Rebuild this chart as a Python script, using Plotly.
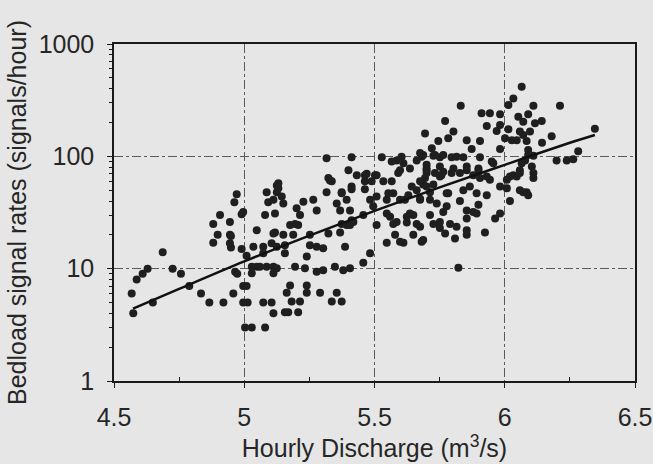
import plotly.graph_objects as go

# Scatter data: hourly discharge (m3/s) vs bedload signal rate (signals/hour)
discharge = [
    4.687, 4.629, 4.610, 4.587, 4.568, 4.574, 4.649, 4.725, 4.757, 4.789, 4.834, 4.866, 4.920,
    4.881, 4.898, 4.881, 4.907, 4.945, 4.949, 4.949, 4.962, 4.971, 4.990, 4.996, 4.990, 4.958,
    4.973, 4.996, 5.009, 4.996, 5.013, 5.003, 5.029, 5.080, 5.073, 5.105, 5.112, 5.009, 5.029,
    5.048, 5.060, 5.086, 5.112, 4.965, 5.029, 5.048, 5.035, 5.073, 5.105, 5.118, 5.080, 5.092,
    5.086, 5.125, 5.118, 5.073,
    5.694, 5.316, 5.412, 5.528, 5.502, 5.400, 5.470, 5.323, 5.336, 5.412, 5.463, 5.534, 5.566,
    5.463, 5.374, 5.316, 5.412, 5.131, 5.131, 5.125, 5.144, 5.150, 5.112, 5.201, 5.227, 5.265,
    5.278, 5.214, 5.176, 5.207, 5.355, 5.393, 5.406, 5.368, 5.419, 5.393, 5.483, 5.508, 5.547,
    5.572, 5.598, 5.630, 5.662, 5.675, 5.700, 5.585, 5.611, 5.598, 5.636, 5.700, 5.694, 5.681,
    5.662, 5.560, 5.624, 5.649, 5.572,
    5.195, 5.374, 5.406, 5.508, 5.585, 5.624, 5.662, 5.150, 5.188, 5.112, 5.252, 5.323, 5.579,
    5.649, 5.547, 5.611, 5.681, 5.252, 5.278, 5.303, 5.387, 5.156, 5.125, 5.156, 5.240, 5.483,
    5.457, 5.195, 5.233, 5.278, 5.303, 5.380, 5.406, 5.125, 5.112, 5.176, 5.240, 5.163, 5.240,
    5.291, 5.355, 5.182, 5.214, 5.336, 5.374, 5.169, 5.207,
    6.065, 6.033, 6.014, 6.110, 6.212, 5.831, 5.911, 5.943, 5.982, 6.052, 6.090, 6.071, 6.116,
    6.142, 5.771, 5.982, 5.931, 5.969, 6.014, 6.058, 6.097, 6.071, 5.803, 6.346, 6.180, 6.143,
    6.001, 6.027, 6.046, 6.084, 5.783, 5.854, 5.905, 5.745, 5.720, 5.873, 5.982, 6.090, 6.282,
    6.090, 6.110, 5.687, 5.726, 5.751, 5.796, 5.841, 5.905, 6.199, 6.238, 6.263, 5.950, 6.078,
    5.700, 5.751, 5.803, 5.854, 5.899, 6.104, 6.058, 6.110, 5.700, 5.764, 5.828, 5.879, 5.931,
    6.046,
    5.751, 5.905, 5.943, 6.020, 6.058, 5.687, 5.713, 5.783, 5.866, 5.931, 6.008, 6.071, 6.090,
    5.675, 5.739, 5.828, 5.899, 6.020, 5.764, 5.879, 5.982, 5.963, 5.713, 5.854, 5.726, 5.790,
    5.751, 5.815, 5.771, 5.809, 5.854, 5.924, 5.687, 5.822,
    5.675, 5.732, 5.764, 5.815, 5.956, 5.604, 5.566, 5.432, 5.463, 5.508, 5.591, 5.700, 5.732,
    5.757, 5.796, 5.854, 5.899, 5.329, 5.374, 5.489, 5.553, 5.643, 5.675, 5.726, 5.777, 5.841,
    5.892, 5.982, 6.058, 6.084, 6.110, 6.065, 6.008, 6.033, 5.617, 5.713, 5.777, 5.854, 5.892,
    5.547, 5.636, 5.751, 5.854, 5.675, 5.412, 5.457, 5.495, 5.368,
    5.598, 5.348, 5.156, 4.945, 4.945,
]
signal_rate = [
    14, 10, 9, 8, 6, 4, 5, 10, 9, 7, 6, 5, 5,
    25, 20, 17, 30, 26, 19.5, 15.4, 39, 46, 30.5, 32, 15, 6,
    9, 7, 7, 5, 5, 3, 3, 3, 5, 5, 4, 13, 10.4,
    10.4, 10.4, 10.4, 10.4, 9.4, 9.1, 22, 15.7, 15.7, 16.8, 21, 30, 39,
    48, 55, 31, 13.7,
    160, 96, 98, 98, 68, 75, 70, 64, 60, 54, 60, 60, 60,
    51, 48, 48, 51, 57.5, 52, 48, 44, 38, 41, 34.5, 39.5, 41,
    33, 30, 24.5, 24.5, 38, 41, 33, 33, 26, 24.5, 41, 44, 41,
    47, 41, 45, 50, 41, 54, 92, 87, 75, 78, 78, 64, 99,
    92, 29, 29, 30, 25,
    25, 25, 24.5, 24.5, 26, 25.7, 25, 20, 20, 20.6, 20, 20.6, 20,
    20, 17, 17, 17.4, 16.2, 15.7, 15.2, 15.7, 16.2, 15.7, 13.7, 12.8, 13.7,
    11.3, 10.4, 10.1, 9.4, 9.7, 9.7, 10.1, 10.1, 9.1, 7.1, 7.1, 6.1, 6.1,
    6.1, 6.1, 5.1, 5.1, 5.1, 5.1, 4.1, 4.1,
    417, 328, 286, 282, 282, 282, 242, 242, 237, 225, 237, 203, 197,
    206, 206, 190, 186, 168, 174, 166, 166, 155, 166, 176, 151, 132,
    145, 139, 139, 137, 145, 139, 137, 137, 118, 116, 116, 114, 111,
    103, 101, 103, 101, 98, 98, 98, 98, 92, 92, 94, 90, 92,
    84, 81, 78, 81, 78, 81, 75, 71, 71, 73, 71, 68, 66,
    66,
    66, 64, 62, 66, 71, 56, 48, 47, 54, 45, 52, 48, 45,
    42, 38, 40, 37, 40, 32, 32, 31, 28, 30, 28, 25, 25,
    23, 23.6, 20.6, 18.6, 20, 21, 18, 10.2,
    107, 103, 103, 99, 87, 99, 90, 68, 68, 68, 71, 75, 71,
    68, 71, 75, 75, 61, 47, 60, 47, 54, 60, 56, 47, 50,
    47, 54, 50, 48, 64, 87, 62, 68, 41, 41, 36, 33, 31,
    31, 31, 26, 22, 23.6, 27, 30, 36, 21,
    17.4, 10.4, 4.1, 20, 16.8,
]

# Fitted trend line
fit_discharge = [4.573, 4.75, 5.0, 5.25, 5.5, 5.75, 6.0, 6.25, 6.346]
fit_rate = [4.4, 6.6, 11.6, 19.7, 32.7, 53, 84, 132, 155]

x_ticks = [4.5, 5, 5.5, 6, 6.5]
x_tick_text = ["4.5", "5", "5.5", "6", "6.5"]
y_ticks = [1, 10, 100, 1000]
y_tick_text = ["1", "10", "100", "1000"]

FONT = "Liberation Sans, Arial, sans-serif"
INK = "#262626"
BG = "#e6e6e6"

fig = go.Figure()
fig.add_trace(go.Scatter(
    x=discharge, y=signal_rate, mode="markers",
    marker=dict(size=8, color="#1f1f1f", line=dict(width=0)),
    showlegend=False, hoverinfo="skip"))
fig.add_trace(go.Scatter(
    x=fit_discharge, y=fit_rate, mode="lines",
    line=dict(color="#111111", width=2.5, shape="spline"),
    showlegend=False, hoverinfo="skip"))

minor_y = [m * d for d in (1, 10, 100) for m in range(2, 10)]

fig.update_layout(
    width=653, height=464,
    margin=dict(l=114, r=18, t=44, b=83),
    paper_bgcolor=BG, plot_bgcolor=BG,
    font=dict(family=FONT, color=INK),
    xaxis=dict(
        range=[4.5, 6.5], tickvals=x_ticks, ticktext=x_tick_text,
        tickfont=dict(size=25, color=INK), automargin=False,
        showline=True, linecolor="#1a1a1a", linewidth=1.5, mirror=True,
        ticks="outside", ticklen=5, tickcolor="#1a1a1a", ticklabelstandoff=8,
        showgrid=True, gridcolor="#5a5a5a", gridwidth=1, griddash="dashdot",
        zeroline=False,
        minor=dict(tickvals=[4.75, 5.25, 5.75, 6.25], ticks="inside",
                   ticklen=4, tickcolor="#1a1a1a", showgrid=False),
        title=dict(text="Hourly Discharge (m<sup>3</sup>/s)",
                   font=dict(size=25, color=INK), standoff=5),
    ),
    yaxis=dict(
        type="log", range=[0, 3], tickvals=y_ticks, ticktext=y_tick_text,
        tickfont=dict(size=25, color=INK), automargin=False,
        showline=True, linecolor="#1a1a1a", linewidth=1.5, mirror=True,
        ticks="outside", ticklen=5, tickcolor="#1a1a1a", ticklabelstandoff=8,
        showgrid=True, gridcolor="#5a5a5a", gridwidth=1, griddash="dashdot",
        zeroline=False,
        minor=dict(tickvals=minor_y, ticks="outside", ticklen=3,
                   tickcolor="#1a1a1a", showgrid=False),
        title=dict(text="Bedload signal rates (signals/hour)",
                   font=dict(size=25, color=INK), standoff=5),
    ),
)

fig.write_html("out.html")
